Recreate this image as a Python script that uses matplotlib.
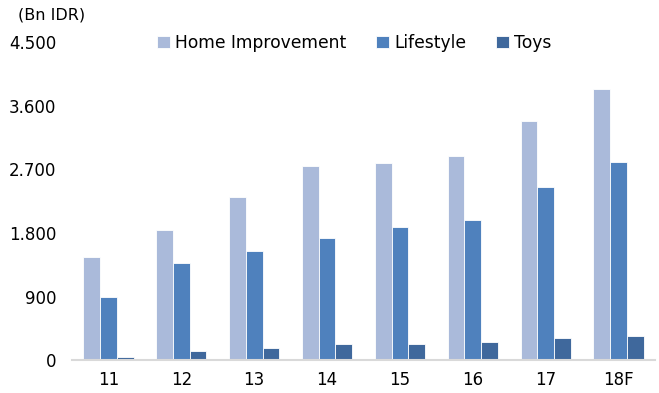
import matplotlib
matplotlib.use("Agg")
import numpy as np
from matplotlib import pyplot as plt
from matplotlib.ticker import FuncFormatter

years = ['11', '12', '13', '14', '15', '16', '17', '18F']
home_improvement = [1464, 1842, 2314, 2754, 2792, 2891, 3383, 3836]
lifestyle = [897, 1370, 1549, 1724, 1885, 1980, 2456, 2811]
toys = [47, 128, 170, 227, 227, 251, 307, 345]
y_ticks = [0, 900, 1800, 2700, 3600, 4500]

plt.rcParams['font.family'] = ['DejaVu Sans']

fig = plt.figure(figsize=(6.59, 3.93), dpi=100)
ax = fig.add_axes([72 / 659, 1 - 360 / 393, 583 / 659, 317.5 / 393])

x = np.arange(len(years))
w = 0.23
ax.bar(x - w, home_improvement, w, color='#AABADA', edgecolor='white', linewidth=0.6, label='Home Improvement')
ax.bar(x, lifestyle, w, color='#4F81BD', edgecolor='white', linewidth=0.6, label='Lifestyle')
ax.bar(x + w, toys, w, color='#3F689C', edgecolor='white', linewidth=0.6, label='Toys')

ax.set_xlim(-0.5, len(years) - 0.5)
ax.set_ylim(0, 4500)
ax.set_yticks(y_ticks)
ax.yaxis.set_major_formatter(FuncFormatter(lambda v, p: f'{int(v):,}'.replace(',', '.')))
ax.set_xticks(x)
ax.set_xticklabels(years)
ax.tick_params(axis='both', length=0, labelsize=12, colors='black')
ax.tick_params(axis='y', pad=11.5)
ax.tick_params(axis='x', pad=8)

for side in ['top', 'right', 'left']:
    ax.spines[side].set_visible(False)
ax.spines['bottom'].set_color('#D9D9D9')
ax.spines['bottom'].set_linewidth(1.5)

fig.text(18 / 659, 1 - 15 / 393, '(Bn IDR)', fontsize=11.5, va='center', ha='left')

fig.legend(loc='center left', bbox_to_anchor=(142 / 659, 1 - 43 / 393), ncol=3, frameon=False,
           fontsize=12.3, handlelength=0.75, handleheight=0.75, handletextpad=0.3, columnspacing=1.75)

fig.savefig('out.png', dpi=100)
